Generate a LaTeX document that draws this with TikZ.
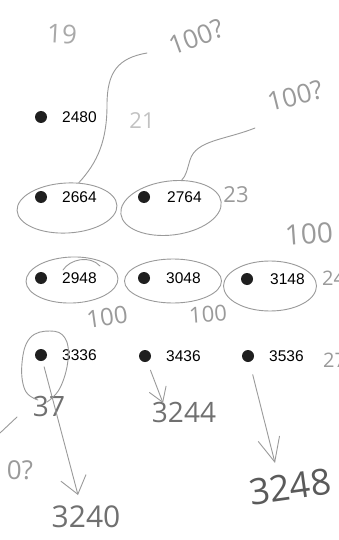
\documentclass[tikz,border=0pt]{standalone}
\usepackage{fontspec}
\setmainfont{Liberation Sans}
\newfontfamily\handfont{Open Sans}
\usetikzlibrary{arrows.meta,shapes.geometric}
\definecolor{pencil}{HTML}{9A9A9A}
\definecolor{pencildark}{HTML}{707070}
\definecolor{pencildeep}{HTML}{5A5A5A}
\begin{document}
\begin{tikzpicture}[x=1pt,y=-1pt,
  dot/.style={circle,fill=black!88,minimum size=12pt,inner sep=0pt},
  num/.style={anchor=west,inner sep=0pt,font=\fontsize{15.5}{18}\selectfont},
  ring/.style={ellipse,draw=pencil,line width=0.9pt,inner sep=0pt},
  pencilline/.style={draw=pencil,line width=0.9pt,line cap=round,line join=round},
  hand/.style={inner sep=0pt,text=pencil,font=\handfont\fontsize{#1}{#1}\selectfont},
  barb/.style={pencilline,-{Straight Barb[#1]}}
]
\useasboundingbox (0,0) rectangle (338,540);
\fill[white] (0,0) rectangle (338,540);
\clip (0,0) rectangle (338,540);

% printed dots and numbers
\node[dot] (d2480) at (41,117) {};
\node[num] (n2480) at (62,117) {2480};
\node[dot] (d2664) at (41,197) {};
\node[num] (n2664) at (62,197) {2664};
\node[dot] (d2764) at (144,197) {};
\node[num] (n2764) at (167,197) {2764};
\node[dot] (d2948) at (41,278) {};
\node[num] (n2948) at (62,278) {2948};
\node[dot] (d3048) at (144,278) {};
\node[num] (n3048) at (166,278) {3048};
\node[dot] (d3148) at (247,279) {};
\node[num] (n3148) at (270,279) {3148};
\node[dot] (d3336) at (41,355) {};
\node[num] (n3336) at (62,355) {3336};
\node[dot] (d3436) at (145,356) {};
\node[num] (n3436) at (166,356) {3436};
\node[dot] (d3536) at (248,356) {};
\node[num] (n3536) at (269,356) {3536};

% pencil rings
\node[ring,minimum width=100pt,minimum height=50pt,rotate=3] (e2664) at (67,208) {};
\node[ring,minimum width=101pt,minimum height=54pt,rotate=7] (e2764) at (171,208) {};
\node[ring,minimum width=92pt,minimum height=46pt,rotate=2] (e2948) at (72,280) {};
\node[ring,minimum width=97pt,minimum height=44pt] (e3048) at (173,281) {};
\node[ring,minimum width=93pt,minimum height=50pt] (e3148) at (270,286) {};
\draw[pencilline] (63,270) .. controls (70,259) and (90,255) .. (100,266);

% handwritten notes
\node[hand=26,text=pencil!85,rotate=-3] (h19) at (62,34) {19};
\node[hand=26,rotate=20] (q1) at (196,37) {100?};
\node[hand=22,text=pencil!60] (h21) at (142,121) {21};
\node[hand=26,rotate=14] (q2) at (295,96) {100?};
\node[hand=22] (h23) at (236,195) {23};
\node[hand=28,rotate=4] (h100a) at (309,234) {100};
\node[hand=20,anchor=west] (h24) at (322,278) {24};
\node[hand=24,rotate=8] (h100b) at (107,317) {100};
\node[hand=22,rotate=4] (h100c) at (208,314) {100};
\node[hand=20,anchor=west] (h27) at (323,360) {27};
\node[hand=28,text=pencildark] (h37) at (49,406) {37};
\node[hand=28,text=pencildark] (t3244) at (184,412) {3244};
\node[hand=26] (q3) at (20,470) {0?};
\node[hand=30,text=pencildark] (t3240) at (86,517) {3240};
\node[hand=36,text=pencildeep,rotate=8] (t3248) at (290,487) {3248};

% pencil connectors from the "100?" notes
\coordinate (c1s) at (147,53);
\draw[pencilline] (c1s) .. controls (118,58) and (107,72) .. (107,105)
  .. controls (107,140) and (98,162) .. (e2664.62);
\coordinate (c2s) at (255,128);
\draw[pencilline] (c2s) .. controls (225,140) and (196,140) .. (190,160)
  .. controls (187,170) and (186,176) .. (e2764.62);
\draw[pencilline] (0,433) -- (17,417);

% loop round 3336
\draw[pencilline] plot[smooth,tension=0.7] coordinates
  {(38,400) (25,390) (22,363) (30,338) (50,331) (65,338) (68,360) (60,388) (47,402)};

% arrows
\coordinate (tipA) at (78,495);
\coordinate (tipB) at (163,403);
\coordinate (tipC) at (275,463);
\draw[barb={length=17pt,width=26pt},shorten <=6pt] (d3336) -- (tipA);
\draw[barb={length=14pt,width=18pt},shorten <=9pt] (d3436) -- (tipB);
\draw[barb={length=24pt,width=22pt},shorten <=13pt] (d3536) -- (tipC);
\end{tikzpicture}
\end{document}
